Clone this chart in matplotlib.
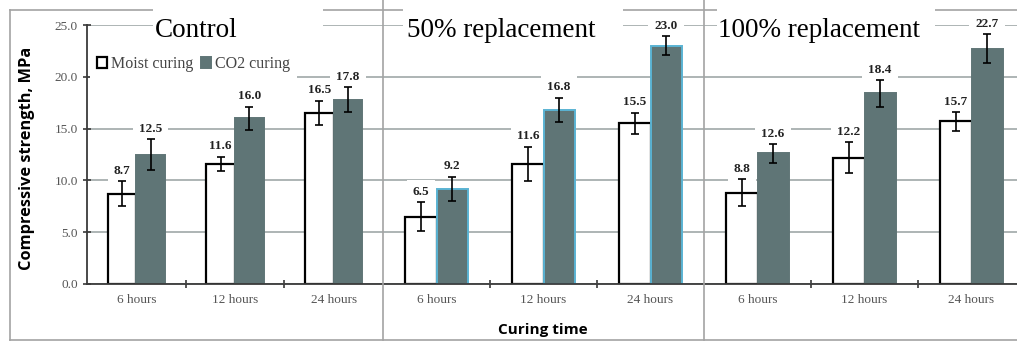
import matplotlib.pyplot as plt
import numpy as np
from matplotlib.lines import Line2D
from matplotlib.patches import Rectangle

# data
hours = ["6 hours", "12 hours", "24 hours"]
panels = ["Control", "50% replacement", "100% replacement"]

moist = [[8.7, 11.6, 16.5],
         [6.5, 11.6, 15.5],
         [8.8, 12.2, 15.7]]
co2 = [[12.5, 16.0, 17.8],
       [9.2, 16.8, 23.0],
       [12.6, 18.4, 22.7]]
moist_err = [[1.2, 0.7, 1.2],
             [1.4, 1.65, 1.05],
             [1.3, 1.5, 0.9]]
co2_err = [[1.5, 1.1, 1.2],
           [1.15, 1.2, 0.9],
           [0.9, 1.3, 1.4]]

W, H = 1017, 342
fig = plt.figure(figsize=(W / 100, H / 100), dpi=100)

def fx(px):
    return px / W

def fy(py):
    return 1 - py / H

gray_bar = '#5f7576'
grid_c = '#a7afaf'
frame_c = '#a3a3a3'
serif = 'Liberation Serif'

# axes positions in pixels (left, right)
spans = [(87, 383), (383, 704), (704, 1025)]
ax_top, ax_bot = 25, 284
x = np.arange(3)
bw = 0.29

axes = []
for i, (l, r) in enumerate(spans):
    ax = fig.add_axes([fx(l), fy(ax_bot), fx(r - l), (ax_bot - ax_top) / H])
    axes.append(ax)
    ax.set_xlim(-0.5, 2.5)
    ax.set_ylim(0, 25)
    ax.set_yticks(np.arange(0, 26, 5))
    ax.yaxis.grid(True, color=grid_c, lw=1.3)
    ax.set_axisbelow(True)
    for s in ['top', 'right']:
        ax.spines[s].set_visible(False)
    ax.spines['bottom'].set_color('#3a3a3a')
    ax.spines['bottom'].set_linewidth(1.3)
    if i == 0:
        ax.spines['left'].set_color('#3a3a3a')
        ax.spines['left'].set_linewidth(1.3)
        ax.set_yticklabels(['%.1f' % v for v in np.arange(0, 26, 5)],
                           family=serif, fontsize=9.5, color='#555555')
        ax.tick_params(axis='y', direction='inout', length=6, color='#3a3a3a', width=1.2)
    else:
        ax.spines['left'].set_visible(False)
        ax.tick_params(axis='y', length=0, labelleft=False)
    ax.set_xticks(x)
    ax.set_xticklabels(hours, family=serif, fontsize=9.5, color='#555555')
    ax.tick_params(axis='x', length=0, pad=7)
    ax.set_xticks([0.5, 1.5], minor=True)
    ax.tick_params(axis='x', which='minor', direction='inout', length=6,
                   color='#3a3a3a', width=1.2)

    ec2 = '#5ab3d3' if i == 1 else gray_bar
    ax.bar(x - bw / 2, moist[i], bw, color='white', edgecolor='black', lw=1.6,
           yerr=moist_err[i], error_kw=dict(ecolor='black', elinewidth=1.2,
                                            capsize=3, capthick=1.2, zorder=3),
           label='Moist curing', zorder=2)
    ax.bar(x + bw / 2, co2[i], bw, color=gray_bar, edgecolor=ec2, lw=1.4,
           yerr=co2_err[i], error_kw=dict(ecolor='black', elinewidth=1.2,
                                          capsize=3, capthick=1.2, zorder=3),
           label='CO2 curing', zorder=2)
    for xs, vals, errs in [(x - bw / 2, moist[i], moist_err[i]),
                           (x + bw / 2, co2[i], co2_err[i])]:
        for xx, v, e in zip(xs, vals, errs):
            ax.text(xx, v + e + 1.0, '%.1f' % v, ha='center', va='center',
                    family=serif, fontsize=9.5, fontweight='bold', color='#222222',
                    bbox=dict(boxstyle='square,pad=0.45', fc='white', ec='none'),
                    zorder=1.5, clip_on=False)
    if i == 0:
        leg = ax.legend(loc='upper left', bbox_to_anchor=(0.0, 0.92), ncol=2,
                        frameon=True, fancybox=False, edgecolor='none',
                        handlelength=0.6, handleheight=0.6, handletextpad=0.25,
                        columnspacing=0.5, borderpad=0.45, borderaxespad=0.2,
                        prop=dict(family=serif, size=11.5))
        leg.get_frame().set_facecolor('white')
        leg.get_frame().set_alpha(1)
        for t in leg.get_texts():
            t.set_color('#444444')

# outer frame lines of the combined picture
for seg in [((10, W), (10, 10)), ((10, W), (340, 340)), ((10, 10), (10, 340)),
            ((383, 383), (0, 340)), ((704, 704), (0, 340))]:
    fig.add_artist(Line2D([fx(seg[0][0]), fx(seg[0][1])],
                          [fy(seg[1][0]), fy(seg[1][1])],
                          color=frame_c, lw=1.2, zorder=1))

# panel titles on white boxes
title_boxes = [(153, 323), (403, 623), (717, 935)]
title_x = [155, 407, 718]
for (bl, br), tx, name in zip(title_boxes, title_x, panels):
    fig.add_artist(Rectangle((fx(bl), fy(44)), fx(br - bl), (44 - 3) / H,
                             transform=fig.transFigure, fc='white', ec='none', zorder=2))
    fig.text(fx(tx), fy(37), name, family=serif, fontsize=19.5, va='baseline',
             ha='left', color='black', zorder=3)

fig.text(fx(27), fy(158), 'Compressive strength, MPa', rotation=90, ha='center',
         va='center', family='Open Sans', fontweight='bold', fontsize=11.8)
fig.text(fx(543), fy(330), 'Curing time', ha='center', va='center',
         family='Open Sans', fontweight='bold', fontsize=11)

fig.savefig('out.png', dpi=100)
